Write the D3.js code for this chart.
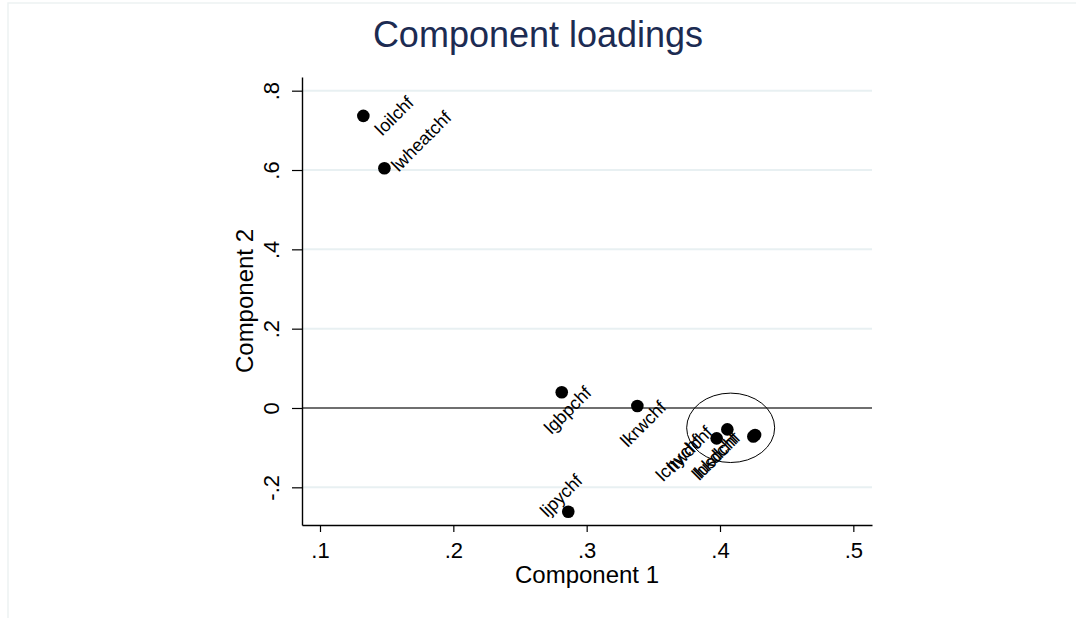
<!DOCTYPE html>
<html>
<head>
<meta charset="utf-8">
<script src="https://cdn.jsdelivr.net/npm/d3@7"></script>
<style>
  body { margin: 0; background: #fff; }
  svg { display: block; font-family: "Liberation Sans", Arial, Helvetica, sans-serif; }
</style>
</head>
<body>
<div id="chart"></div>
<script>
// loadings
const names  = ["loilchf", "lwheatchf", "lgbpchf", "lkrwchf", "ljpychf", "lcnychf", "ltwdchf", "lhkdchf", "lusdchf"];
const comp1  = [0.1325, 0.1483, 0.2813, 0.338, 0.2862, 0.3975, 0.4055, 0.425, 0.4263];
const comp2  = [0.7364, 0.6045, 0.0396, 0.005, -0.2615, -0.0765, -0.054, -0.072, -0.068];
// marker label clock positions (Stata style)
const labelPos = [3, 2, 6, 6, 12, 8, 8, 8, 8];

const xTicks = [0.1, 0.2, 0.3, 0.4, 0.5];
const xTickLabels = [".1", ".2", ".3", ".4", ".5"];
const yTicks = [-0.2, 0, 0.2, 0.4, 0.6, 0.8];
const yTickLabels = ["-.2", "0", ".2", ".4", ".6", ".8"];

// circle drawn round the dollar bloc
const ringCenter = [0.408, -0.050];
const ringRadius = [0.033, 0.0875];

const W = 1076, H = 618;
const plot = {left: 302, right: 872, top: 77, bottom: 525};

const svg = d3.select("#chart").append("svg")
    .attr("width", W).attr("height", H);

// faint outer frame (only top/left show in the original)
svg.append("path")
    .attr("d", `M8,${H} V3 H${W}`)
    .attr("fill", "none").attr("stroke", "#edf2f2").attr("stroke-width", 1.5);

const x = d3.scaleLinear().domain([0.0865, 0.514]).range([plot.left, plot.right]);
const y = d3.scaleLinear().domain([-0.295, 0.8345]).range([plot.bottom, plot.top]);

// grid lines
svg.append("g").selectAll("line")
    .data(yTicks.filter(d => d !== 0))
    .join("line")
    .attr("x1", plot.left).attr("x2", plot.right)
    .attr("y1", d => y(d)).attr("y2", d => y(d))
    .attr("stroke", "#e8f0f2").attr("stroke-width", 2);

// reference line at zero
svg.append("line")
    .attr("x1", plot.left).attr("x2", plot.right)
    .attr("y1", y(0)).attr("y2", y(0))
    .attr("stroke", "#6f6f6f").attr("stroke-width", 2);

// axes
const xAxis = svg.append("g")
    .attr("transform", `translate(0,${plot.bottom})`)
    .call(d3.axisBottom(x).tickValues(xTicks)
        .tickFormat((d, i) => xTickLabels[i])
        .tickSize(7).tickSizeOuter(0).tickPadding(10));

const yAxis = svg.append("g")
    .attr("transform", `translate(${plot.left},0)`)
    .call(d3.axisLeft(y).tickValues(yTicks)
        .tickFormat((d, i) => yTickLabels[i])
        .tickSize(10).tickSizeOuter(0));

[xAxis, yAxis].forEach(a => {
    a.select(".domain").attr("stroke", "#000").attr("stroke-width", 1.4);
    a.selectAll(".tick line").attr("stroke", "#000").attr("stroke-width", 1.2);
    a.selectAll("text").attr("fill", "#000").style("font-size", "22px")
        .style("font-family", "'Liberation Sans', Arial, Helvetica, sans-serif");
});

// rotated y tick labels
yAxis.selectAll(".tick text")
    .attr("transform", "rotate(-90)")
    .attr("x", 0).attr("y", -23).attr("dy", 0)
    .attr("text-anchor", "middle");

// ring
svg.append("ellipse")
    .attr("cx", x(ringCenter[0])).attr("cy", y(ringCenter[1]))
    .attr("rx", x(ringCenter[0] + ringRadius[0]) - x(ringCenter[0]))
    .attr("ry", y(ringCenter[1]) - y(ringCenter[1] + ringRadius[1]))
    .attr("fill", "none").attr("stroke", "#000").attr("stroke-width", 1);

const points = names.map((n, i) => ({name: n, c1: comp1[i], c2: comp2[i], pos: labelPos[i]}));

// markers
svg.append("g").selectAll("circle")
    .data(points)
    .join("circle")
    .attr("cx", d => x(d.c1))
    .attr("cy", d => y(d.c2))
    .attr("r", 6.3)
    .attr("fill", "#000");

// marker labels, rotated 45 degrees
const labels = svg.append("g").selectAll("text")
    .data(points)
    .join("text")
    .style("font-size", "18px")
    .attr("fill", "#000")
    .attr("dominant-baseline", "central")
    .text(d => d.name);

labels.each(function(d) {
    const t = d3.select(this);
    const px = x(d.c1), py = y(d.c2);
    const L = this.getComputedTextLength();
    let tx, ty, anchor;
    if (d.pos === 3) { tx = px + 8 + L / 2; ty = py; anchor = "middle"; }
    else if (d.pos === 2) { tx = px + 10; ty = py; anchor = "start"; }
    else if (d.pos === 6) { tx = px + 6; ty = py + 18; anchor = "middle"; }
    else if (d.pos === 12) { tx = px - 7; ty = py - 16; anchor = "middle"; }
    else { tx = px - 18; ty = py; anchor = "end"; }
    t.attr("text-anchor", anchor)
     .attr("transform", `translate(${tx},${ty}) rotate(-45)`);
});

// titles
svg.append("text")
    .attr("x", W / 2).attr("y", 47)
    .attr("text-anchor", "middle")
    .attr("fill", "#1c2b52")
    .style("font-size", "36px")
    .text("Component loadings");

svg.append("text")
    .attr("x", (plot.left + plot.right) / 2).attr("y", 583)
    .attr("text-anchor", "middle")
    .style("font-size", "24px")
    .text("Component 1");

svg.append("text")
    .attr("transform", `translate(253,${(plot.top + plot.bottom) / 2}) rotate(-90)`)
    .attr("text-anchor", "middle")
    .style("font-size", "24px")
    .text("Component 2");
</script>
</body>
</html>
